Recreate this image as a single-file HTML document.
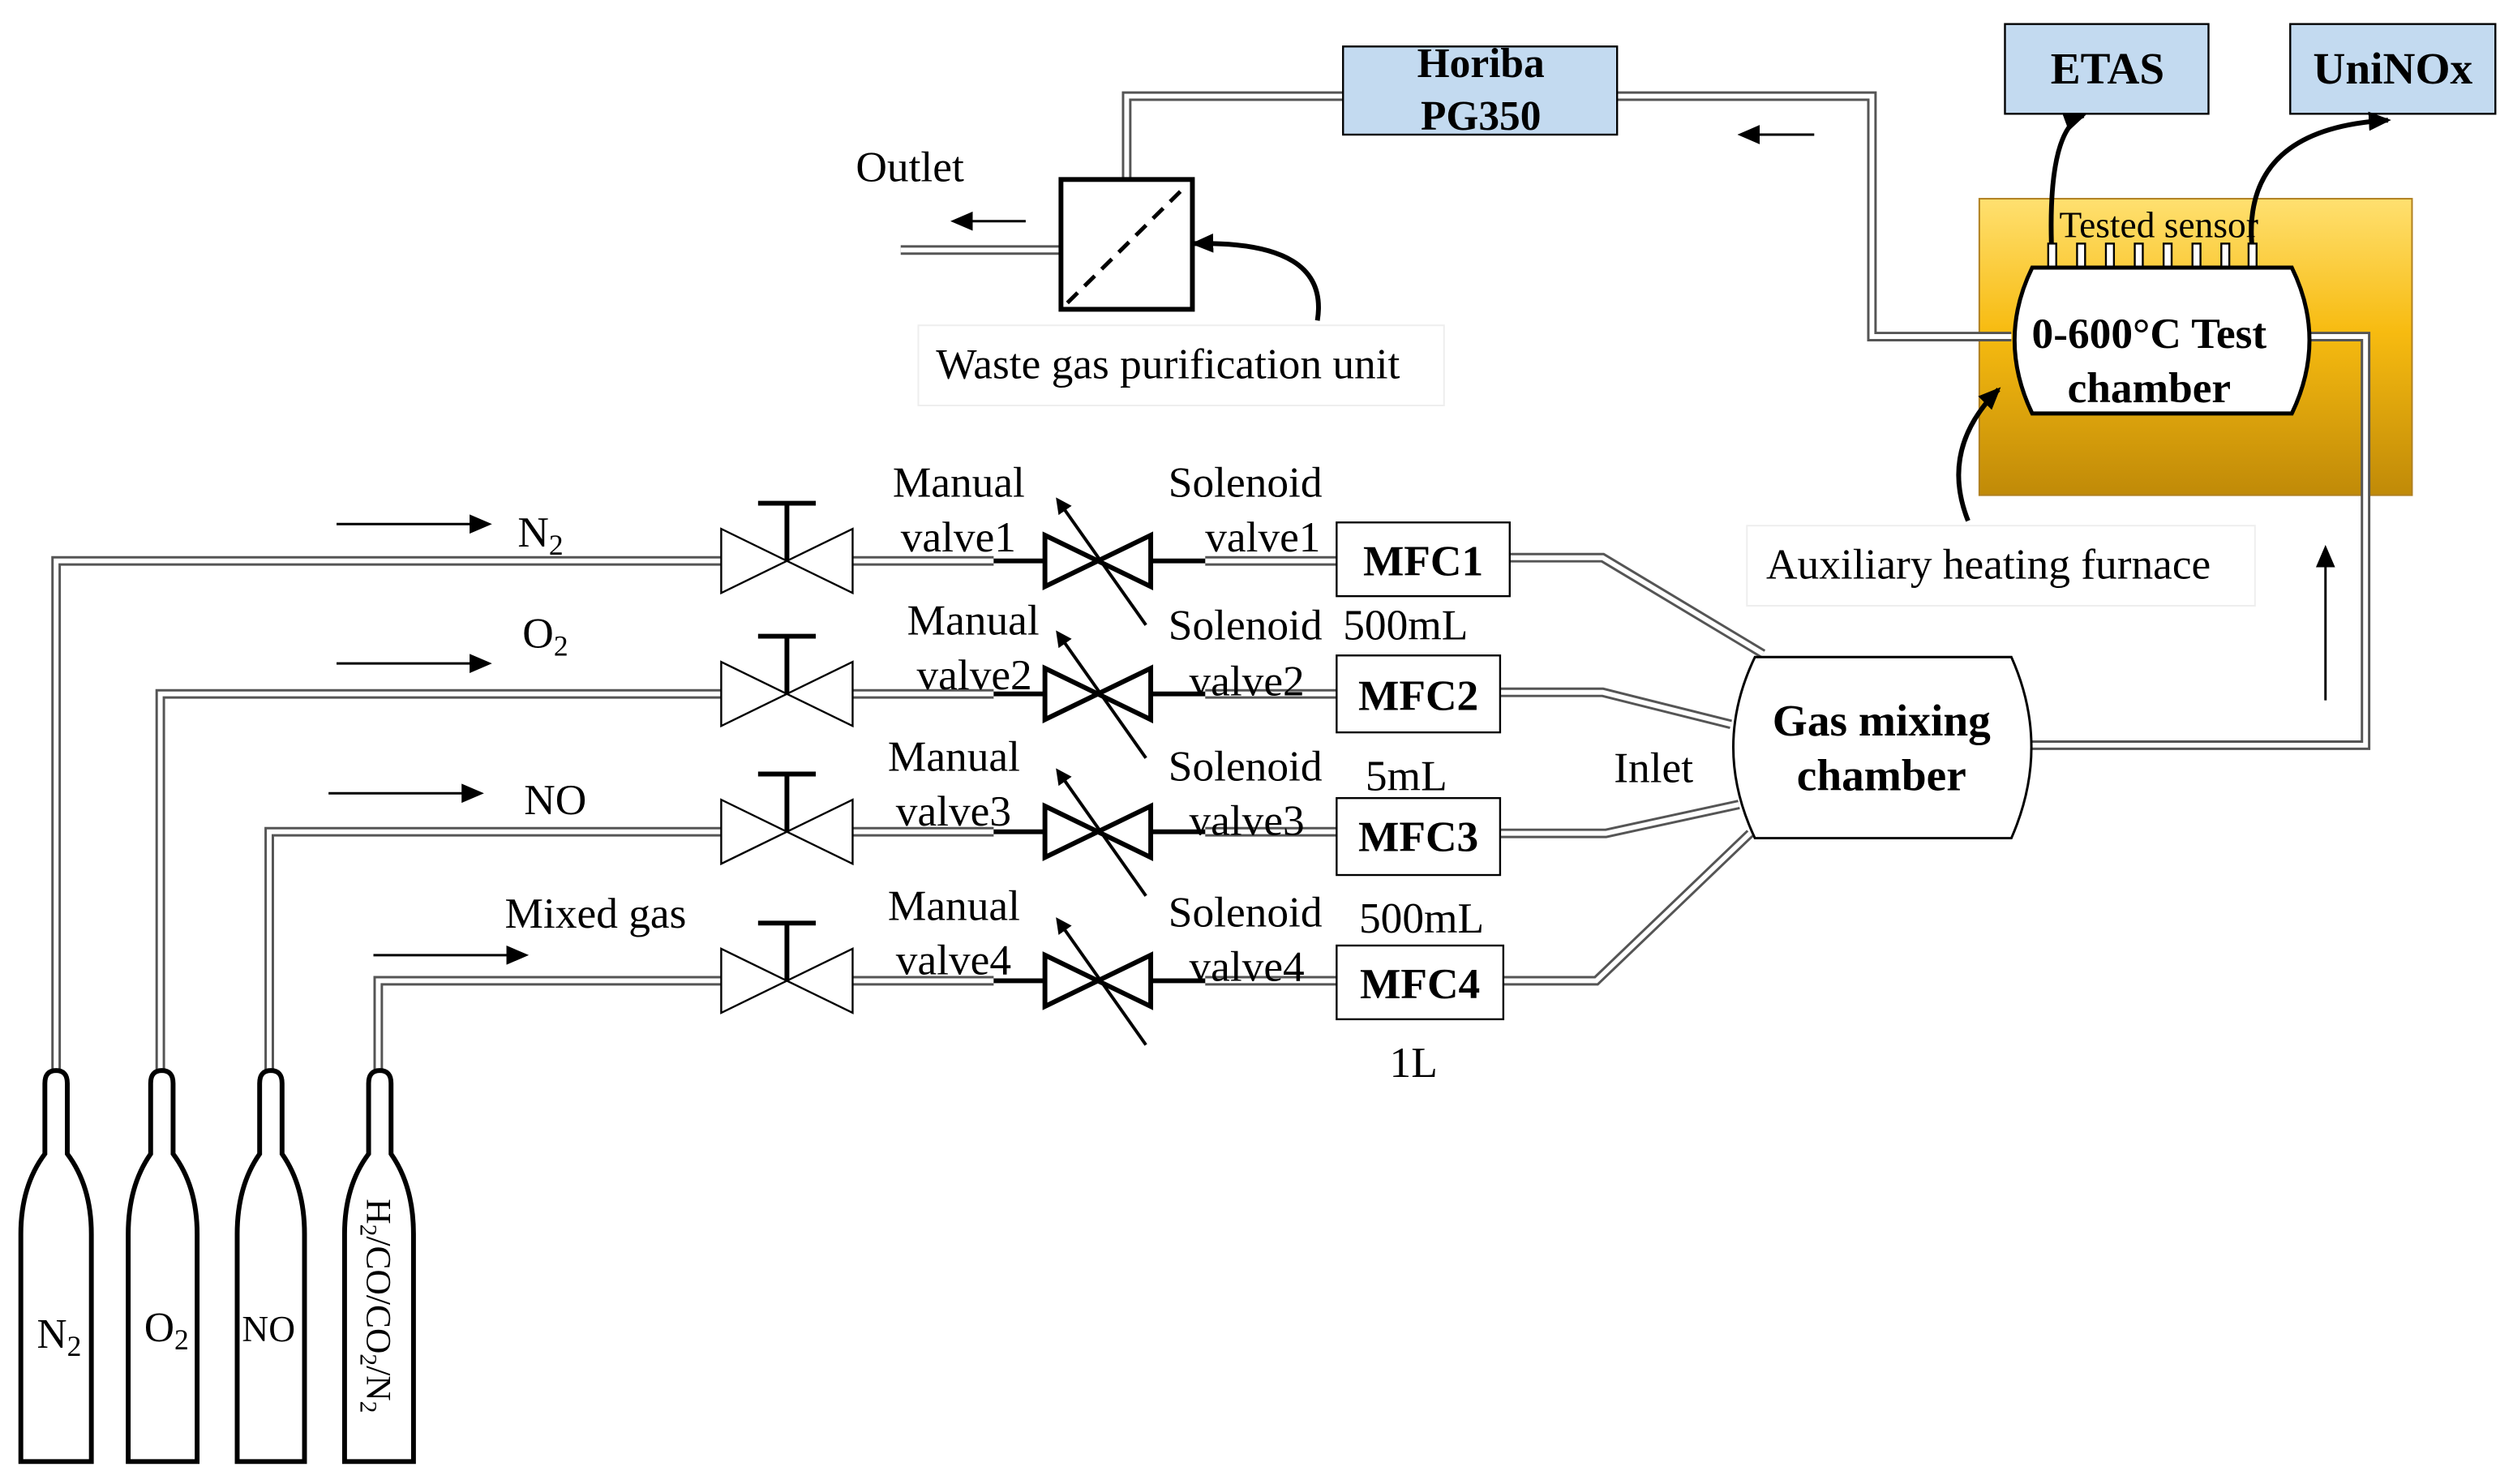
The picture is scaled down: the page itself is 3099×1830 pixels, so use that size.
<!DOCTYPE html>
<html><head><meta charset="utf-8"><style>
html,body{margin:0;padding:0;background:#fff;}
svg{display:block;}
text{font-family:"Liberation Serif",serif;fill:#000;}
.b{font-weight:bold;}
</style></head><body>
<svg width="3099" height="1830" viewBox="0 0 1568 926" preserveAspectRatio="none" xmlns="http://www.w3.org/2000/svg">
<defs>
<linearGradient id="fg" x1="0" y1="0" x2="0" y2="1">
<stop offset="0" stop-color="#ffe070"/><stop offset="0.45" stop-color="#f7bb10"/><stop offset="1" stop-color="#c08a08"/>
</linearGradient>
<marker id="ah" markerWidth="10" markerHeight="10" refX="8" refY="5" orient="auto" markerUnits="userSpaceOnUse"><path d="M0,0 L10,5 L0,10 z" fill="#000"/></marker>
<marker id="ah2" markerWidth="14" markerHeight="12" refX="12" refY="6" orient="auto" markerUnits="userSpaceOnUse"><path d="M0,0 L14,6 L0,12 z" fill="#000"/></marker>
</defs>
<rect width="1568" height="926" fill="#fff"/>

<rect x="1235" y="124" width="270" height="185" fill="url(#fg)" stroke="#b08020"/>

<g fill="none" stroke="#555" stroke-width="6">
<path d="M35,668 V350 H450"/><path d="M100,668 V433 H450"/><path d="M168,668 V519 H450"/><path d="M236,668 V612 H450"/>
<path d="M532,350 H620"/><path d="M532,433 H620"/><path d="M532,519 H620"/><path d="M532,612 H620"/>
<path d="M752,350 H834"/><path d="M752,433 H834"/><path d="M752,519 H834"/><path d="M752,612 H834"/>
<path d="M942,348 H1000 L1100,408"/><path d="M936,432 H1000 L1080,452"/><path d="M936,520 H1002 L1085,502"/><path d="M938,612 H996 L1092,520"/>
<path d="M1268,465 H1476 V210 H1442"/>
<path d="M1255,210 H1168 V60 H1009"/>
<path d="M838,60 H703 V112"/>
<path d="M562,156 H662"/>
</g>
<g fill="none" stroke="#fff" stroke-width="3">
<path d="M35,668 V350 H450"/><path d="M100,668 V433 H450"/><path d="M168,668 V519 H450"/><path d="M236,668 V612 H450"/>
<path d="M532,350 H620"/><path d="M532,433 H620"/><path d="M532,519 H620"/><path d="M532,612 H620"/>
<path d="M752,350 H834"/><path d="M752,433 H834"/><path d="M752,519 H834"/><path d="M752,612 H834"/>
<path d="M942,348 H1000 L1100,408"/><path d="M936,432 H1000 L1080,452"/><path d="M936,520 H1002 L1085,502"/><path d="M938,612 H996 L1092,520"/>
<path d="M1268,465 H1476 V210 H1442"/>
<path d="M1255,210 H1168 V60 H1009"/>
<path d="M838,60 H703 V112"/>
<path d="M562,156 H662"/>
</g>

<g stroke="#000" stroke-width="3">
<path d="M620,350 H652 M718,350 H752"/><path d="M620,433 H652 M718,433 H752"/>
<path d="M620,519 H652 M718,519 H752"/><path d="M620,612 H652 M718,612 H752"/>
</g>

<g fill="#fff" stroke="#000" stroke-width="1.2">
<g transform="translate(0,350)"><path d="M450,-20 L532,20 L532,-20 L450,20 Z"/><path d="M491,0 V-36 M473,-36 H509" stroke-width="3"/></g>
<g transform="translate(0,433)"><path d="M450,-20 L532,20 L532,-20 L450,20 Z"/><path d="M491,0 V-36 M473,-36 H509" stroke-width="3"/></g>
<g transform="translate(0,519)"><path d="M450,-20 L532,20 L532,-20 L450,20 Z"/><path d="M491,0 V-36 M473,-36 H509" stroke-width="3"/></g>
<g transform="translate(0,612)"><path d="M450,-20 L532,20 L532,-20 L450,20 Z"/><path d="M491,0 V-36 M473,-36 H509" stroke-width="3"/></g>
</g>
<g fill="#fff" stroke="#000" stroke-width="3">
<g transform="translate(0,350)"><path d="M652,-16 L718,16 L718,-16 L652,16 Z"/><path d="M715,40 L660,-38" stroke-width="2" marker-end="url(#ah)"/></g>
<g transform="translate(0,433)"><path d="M652,-16 L718,16 L718,-16 L652,16 Z"/><path d="M715,40 L660,-38" stroke-width="2" marker-end="url(#ah)"/></g>
<g transform="translate(0,519)"><path d="M652,-16 L718,16 L718,-16 L652,16 Z"/><path d="M715,40 L660,-38" stroke-width="2" marker-end="url(#ah)"/></g>
<g transform="translate(0,612)"><path d="M652,-16 L718,16 L718,-16 L652,16 Z"/><path d="M715,40 L660,-38" stroke-width="2" marker-end="url(#ah)"/></g>
</g>

<g fill="#fff" stroke="#000" stroke-width="1.2">
<rect x="834" y="326" width="108" height="46"/><rect x="834" y="409" width="102" height="48"/>
<rect x="834" y="498" width="102" height="48"/><rect x="834" y="590" width="104" height="46"/>
</g>
<g font-size="27" text-anchor="middle">
<text class="b" x="888" y="359">MFC1</text><text class="b" x="885" y="443">MFC2</text>
<text class="b" x="885" y="531">MFC3</text><text class="b" x="886" y="623">MFC4</text>
</g>

<path d="M1095,410 H1255 Q1280,466 1255,523 H1095 Q1068,466 1095,410 Z" fill="#fff" stroke="#000" stroke-width="1.5"/>
<text class="b" x="1174" y="459" font-size="28" text-anchor="middle">Gas mixing</text>
<text class="b" x="1174" y="493" font-size="28" text-anchor="middle">chamber</text>

<g stroke="#000" stroke-width="1.2" fill="#fff">
<rect x="1278" y="152" width="5" height="15"/><rect x="1296" y="152" width="5" height="15"/><rect x="1314" y="152" width="5" height="15"/><rect x="1332" y="152" width="5" height="15"/><rect x="1350" y="152" width="5" height="15"/><rect x="1368" y="152" width="5" height="15"/><rect x="1386" y="152" width="5" height="15"/><rect x="1403" y="152" width="5" height="15"/>
</g>
<path d="M1268,167 H1430 Q1452,212 1430,258 H1268 Q1246,212 1268,167 Z" fill="#fff" stroke="#000" stroke-width="2.5"/>
<text class="b" x="1341" y="217" font-size="27" text-anchor="middle">0-600°C Test</text>
<text class="b" x="1341" y="251" font-size="27" text-anchor="middle">chamber</text>
<text x="1347" y="148" font-size="23" text-anchor="middle">Tested sensor</text>

<g fill="#c3daf0" stroke="#000" stroke-width="1.2">
<rect x="1251" y="15" width="127" height="56"/><rect x="1429" y="15" width="128" height="56"/><rect x="838" y="29" width="171" height="55"/>
</g>
<text class="b" x="1315" y="52" font-size="28" text-anchor="middle">ETAS</text>
<text class="b" x="1493" y="52" font-size="28" text-anchor="middle">UniNOx</text>
<text class="b" x="924" y="48" font-size="26" text-anchor="middle">Horiba</text>
<text class="b" x="924" y="81" font-size="26" text-anchor="middle">PG350</text>
<g fill="none" stroke="#000" stroke-width="3">
<path d="M1280,152 Q1278,80 1300,72" marker-end="url(#ah2)"/>
<path d="M1405,152 Q1400,80 1490,75" marker-end="url(#ah2)"/>
<path d="M1228,325 Q1210,280 1247,243" marker-end="url(#ah2)"/>
<path d="M822,200 Q830,150 745,152" marker-end="url(#ah2)"/>
</g>

<rect x="662" y="112" width="82" height="81" fill="#fff" stroke="#000" stroke-width="3"/>
<path d="M666,189 L740,116" stroke="#000" stroke-width="2.5" stroke-dasharray="9,6"/>

<g stroke="#000" stroke-width="1.5" fill="none">
<path d="M210,327 H305" marker-end="url(#ah2)"/><path d="M210,414 H305" marker-end="url(#ah2)"/>
<path d="M205,495 H300" marker-end="url(#ah2)"/><path d="M233,596 H328" marker-end="url(#ah2)"/>
<path d="M640,138 H595" marker-end="url(#ah2)"/><path d="M1132,84 H1086" marker-end="url(#ah2)"/>
<path d="M1451,437 V342" marker-end="url(#ah2)"/>
</g>

<rect x="573" y="203" width="328" height="50" fill="#fff" stroke="#eee"/>
<rect x="1090" y="328" width="317" height="50" fill="#fff" stroke="#eee"/>

<g font-size="27">
<text x="323" y="341">N<tspan font-size="18" dy="5">2</tspan></text>
<text x="326" y="404">O<tspan font-size="18" dy="5">2</tspan></text>
<text x="327" y="508">NO</text>
<text x="315" y="579">Mixed gas</text>
<text x="557" y="310">Manual</text><text x="562" y="344">valve1</text>
<text x="566" y="396">Manual</text><text x="572" y="430">valve2</text>
<text x="554" y="481">Manual</text><text x="559" y="515">valve3</text>
<text x="554" y="574">Manual</text><text x="559" y="608">valve4</text>
<text x="729" y="310">Solenoid</text><text x="752" y="344">valve1</text>
<text x="729" y="399">Solenoid</text><text x="838" y="399">500mL</text><text x="742" y="434">valve2</text>
<text x="729" y="487">Solenoid</text><text x="852" y="493">5mL</text><text x="742" y="521">valve3</text>
<text x="729" y="578">Solenoid</text><text x="848" y="582">500mL</text><text x="742" y="612">valve4</text>
<text x="867" y="672">1L</text>
<text x="1007" y="488">Inlet</text>
<text x="534" y="113">Outlet</text>
<text x="584" y="236">Waste gas purification unit</text>
<text x="1102" y="361">Auxiliary heating furnace</text>
</g>

<g fill="#fff" stroke="#000" stroke-width="3">
<path d="M28,720 V676 Q28,668 35,668 Q42,668 42,676 V720 Q57,740 57,770 V912 H13 V770 Q13,740 28,720 Z"/>
<path d="M94,720 V676 Q94,668 101,668 Q108,668 108,676 V720 Q123,740 123,770 V912 H80 V770 Q80,740 94,720 Z"/>
<path d="M162,720 V676 Q162,668 169,668 Q176,668 176,676 V720 Q190,740 190,770 V912 H148 V770 Q148,740 162,720 Z"/>
<path d="M230,720 V676 Q230,668 237,668 Q244,668 244,676 V720 Q258,740 258,770 V912 H215 V770 Q215,740 230,720 Z"/>
</g>
<text x="23" y="841" font-size="26">N<tspan font-size="18" dy="5">2</tspan></text>
<text x="90" y="837" font-size="26">O<tspan font-size="18" dy="5">2</tspan></text>
<text x="151" y="837" font-size="23">NO</text>
<text transform="translate(229,748) rotate(90)" font-size="22">H<tspan font-size="15" dy="4">2</tspan><tspan dy="-4">/CO/CO</tspan><tspan font-size="15" dy="4">2</tspan><tspan dy="-4">/N</tspan><tspan font-size="15" dy="4">2</tspan></text>
</svg>
</body></html>
